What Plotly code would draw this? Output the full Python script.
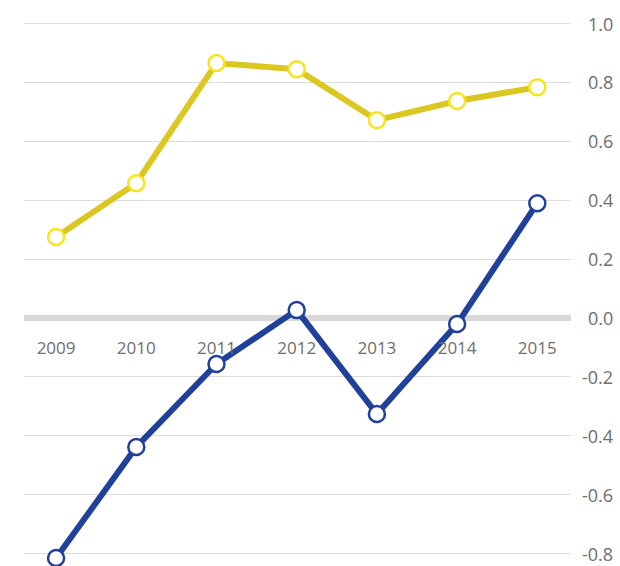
import plotly.graph_objects as go

years = ["2009", "2010", "2011", "2012", "2013", "2014", "2015"]
yellow_vals = [0.275, 0.458, 0.866, 0.845, 0.672, 0.737, 0.784]
blue_vals = [-0.815, -0.438, -0.156, 0.027, -0.326, -0.020, 0.390]
y_ticks = [1.0, 0.8, 0.6, 0.4, 0.2, 0.0, -0.2, -0.4, -0.6, -0.8]

W, H = 620, 566
ml, mr = 24, 49
y_range = [-0.842, 1.080]
x_range = [-0.40, 6.42]

fig = go.Figure()
fig.add_trace(go.Scatter(
    x=list(range(len(years))), y=yellow_vals, mode="lines+markers",
    line=dict(color="#DBC721", width=6),
    marker=dict(size=16, color="white", line=dict(color="#F7E41A", width=2.5)),
    cliponaxis=False, showlegend=False))
fig.add_trace(go.Scatter(
    x=list(range(len(years))), y=blue_vals, mode="lines+markers",
    line=dict(color="#21409A", width=6),
    marker=dict(size=16, color="white", line=dict(color="#21409A", width=2.5)),
    cliponaxis=False, showlegend=False))

zero_pos = (0 - y_range[0]) / (y_range[1] - y_range[0])

fig.update_layout(
    width=W, height=H,
    margin=dict(l=ml, r=mr, t=0, b=0),
    paper_bgcolor="white", plot_bgcolor="white",
    font=dict(family="Open Sans, Noto Sans, sans-serif", color="#6e6e6e", size=17),
    xaxis=dict(
        range=x_range, tickmode="array", tickvals=list(range(len(years))), ticktext=years,
        showgrid=False, zeroline=False, showline=False,
        anchor="free", position=zero_pos,
        ticks="outside", ticklen=15, tickcolor="rgba(0,0,0,0)",
        tickfont=dict(size=17, color="#6e6e6e"),
    ),
    yaxis=dict(
        range=y_range, tickmode="array", tickvals=y_ticks,
        showticklabels=False, showgrid=True, gridcolor="#dddddd", gridwidth=1,
        zeroline=True, zerolinecolor="#d9d9d9", zerolinewidth=6, showline=False,
    ),
)

plot_w = W - ml - mr
for v in y_ticks:
    fig.add_annotation(
        x=1 + (615 - (W - mr)) / plot_w, xref="paper", xanchor="right",
        y=v, yref="y", yanchor="middle", showarrow=False,
        text=f"{v:.1f}".replace("-0.0", "0.0"),
        font=dict(size=18, color="#6e6e6e"),
    )

fig.write_html("out.html", config={"displayModeBar": False})
with open("out.html", encoding="utf-8") as f:
    html = f.read()
html = html.replace("<body>", '<body style="margin:0;padding:0;overflow:hidden">', 1)
with open("out.html", "w", encoding="utf-8") as f:
    f.write(html)
